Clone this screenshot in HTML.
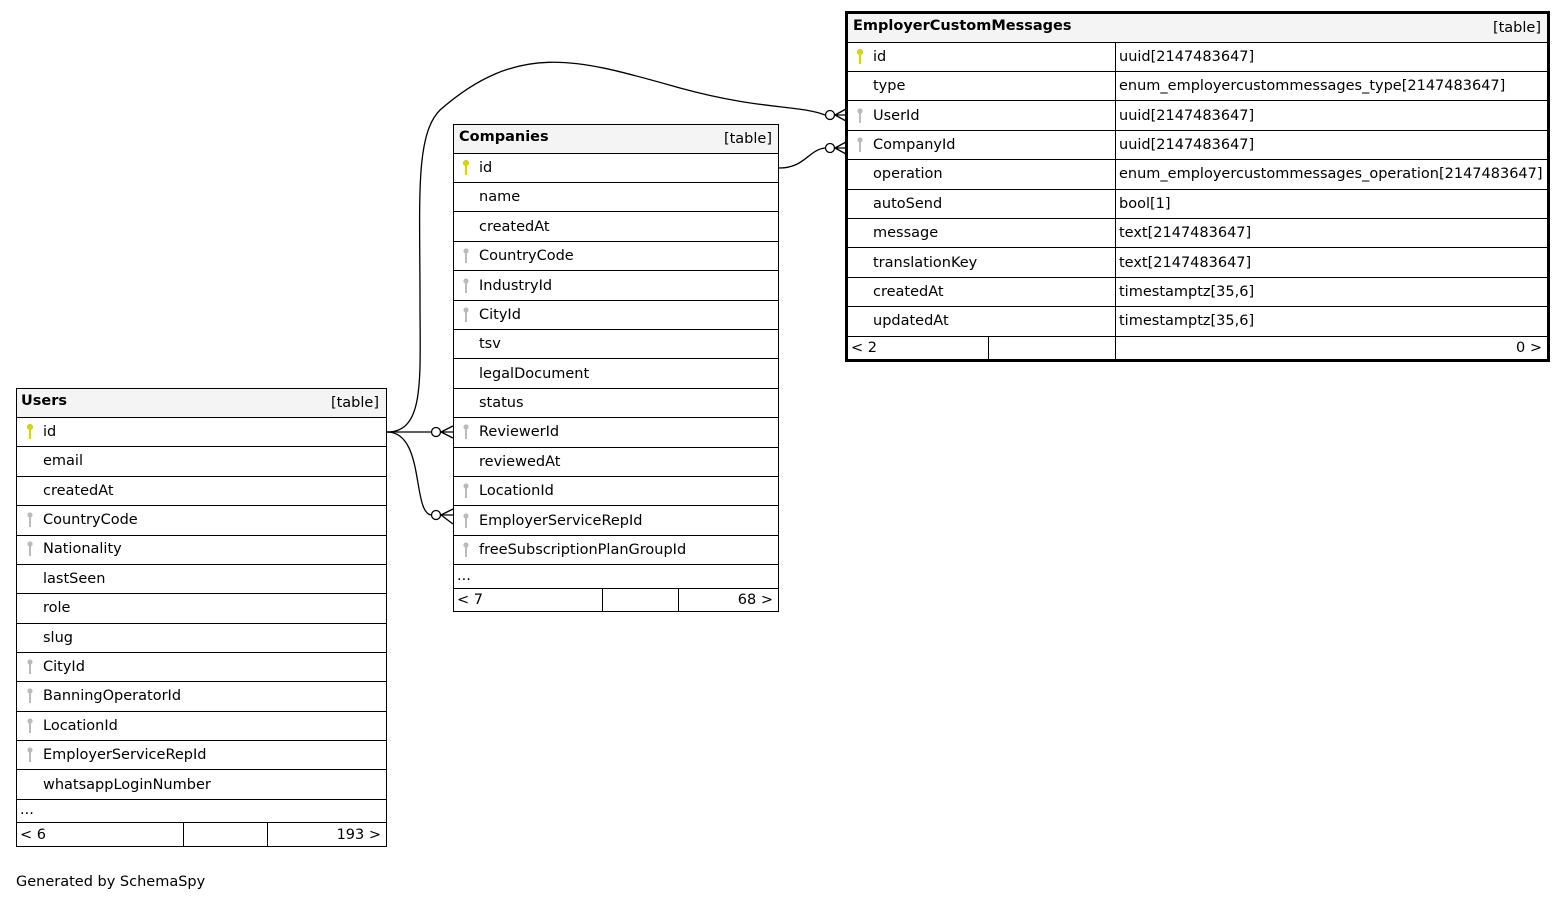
<!DOCTYPE html>
<html><head><meta charset="utf-8"><style>
html,body{margin:0;padding:0;background:#fff;width:1567px;height:901px;overflow:hidden}
svg text{font-family:"DejaVu Sans","Liberation Sans",sans-serif;font-size:14.5px;fill:#000}
.b{font-weight:bold}
</style></head><body>
<svg width="1567" height="901" viewBox="0 0 1567 901" xmlns="http://www.w3.org/2000/svg">
<defs>
<g id="ky"><circle cx="0" cy="0" r="2.8" fill="#d8d800" stroke="#c8c800" stroke-width="0.5"/><rect x="-1.1" y="1" width="2.2" height="11" fill="#d8d800"/></g>
<g id="kg"><circle cx="0" cy="0" r="2.6" fill="#bbb"/><rect x="-1" y="1" width="2" height="11" fill="#bbb"/></g>
</defs>

<g fill="none" stroke="#000" stroke-width="1.3">
<path d="M387,432 C425,432 420,380 420,300 C420,200 415,135 440,110 C520,40 580,60 680,88 C760,110 800,105 825,115"/>
<path d="M779,168 C805,168 808,150 825,148"/>
<path d="M387,432 L431,432"/>
<path d="M387,432 C425,432 412,512 431,515"/>
<circle cx="830" cy="115" r="4.5" fill="#fff"/>
<circle cx="830" cy="148" r="4.5" fill="#fff"/>
<circle cx="436" cy="432" r="4.5" fill="#fff"/>
<circle cx="436" cy="515" r="4.5" fill="#fff"/>
<path d="M835,115 L846,109 M835,115 L846,115 M835,115 L846,121"/>
<path d="M835,148 L846,142 M835,148 L846,148 M835,148 L846,154"/>
<path d="M441,432 L453,426 M441,432 L453,432 M441,432 L453,438"/>
<path d="M441,515 L453,509 M441,515 L453,515 M441,515 L453,524"/>
</g>

<g stroke="#000" stroke-width="1" fill="none">
<rect x="16.5" y="388.5" width="370" height="29" fill="#f4f4f4"/>
<rect x="16.5" y="388.5" width="370" height="458"/>
<path d="M16,417.5H387M16,446.5H387M16,476.5H387M16,505.5H387M16,535.5H387M16,564.5H387M16,593.5H387M16,623.5H387M16,652.5H387M16,681.5H387M16,711.5H387M16,740.5H387M16,769.5H387M16,799.5H387M16,822.5H387M183.5,822V847M267.5,822V847"/>
</g>
<text x="21" y="405" class="b">Users</text><text x="379" y="407" text-anchor="end">[table]</text>
<use href="#ky" x="30" y="427"/><text x="43" y="436">id</text>
<text x="43" y="465">email</text>
<text x="43" y="495">createdAt</text>
<use href="#kg" x="30" y="515"/><text x="43" y="524">CountryCode</text>
<use href="#kg" x="30" y="544"/><text x="43" y="553">Nationality</text>
<text x="43" y="583">lastSeen</text>
<text x="43" y="612">role</text>
<text x="43" y="642">slug</text>
<use href="#kg" x="30" y="662"/><text x="43" y="671">CityId</text>
<use href="#kg" x="30" y="691"/><text x="43" y="700">BanningOperatorId</text>
<use href="#kg" x="30" y="721"/><text x="43" y="730">LocationId</text>
<use href="#kg" x="30" y="750"/><text x="43" y="759">EmployerServiceRepId</text>
<text x="43" y="789">whatsappLoginNumber</text>
<text x="20" y="814">...</text>
<text x="20" y="839">&lt; 6</text><text x="381" y="839" text-anchor="end">193 &gt;</text>

<g stroke="#000" stroke-width="1" fill="none">
<rect x="453.5" y="124.5" width="325" height="29" fill="#f4f4f4"/>
<rect x="453.5" y="124.5" width="325" height="487"/>
<path d="M453,153.5H779M453,182.5H779M453,211.5H779M453,241.5H779M453,270.5H779M453,300.5H779M453,329.5H779M453,358.5H779M453,388.5H779M453,417.5H779M453,447.5H779M453,476.5H779M453,505.5H779M453,535.5H779M453,564.5H779M453,588.5H779M602.5,588V612M678.5,588V612"/>
</g>
<text x="459" y="141" class="b">Companies</text><text x="772" y="143" text-anchor="end">[table]</text>
<use href="#ky" x="466" y="163"/><text x="479" y="172">id</text>
<text x="479" y="201">name</text>
<text x="479" y="231">createdAt</text>
<use href="#kg" x="466" y="251"/><text x="479" y="260">CountryCode</text>
<use href="#kg" x="466" y="281"/><text x="479" y="290">IndustryId</text>
<use href="#kg" x="466" y="310"/><text x="479" y="319">CityId</text>
<text x="479" y="348">tsv</text>
<text x="479" y="378">legalDocument</text>
<text x="479" y="407">status</text>
<use href="#kg" x="466" y="427"/><text x="479" y="436">ReviewerId</text>
<text x="479" y="466">reviewedAt</text>
<use href="#kg" x="466" y="486"/><text x="479" y="495">LocationId</text>
<use href="#kg" x="466" y="516"/><text x="479" y="525">EmployerServiceRepId</text>
<use href="#kg" x="466" y="545"/><text x="479" y="554">freeSubscriptionPlanGroupId</text>
<text x="457" y="580">...</text>
<text x="457" y="604">&lt; 7</text><text x="773" y="604" text-anchor="end">68 &gt;</text>

<g stroke="#000" fill="none">
<rect x="846.5" y="13.5" width="702" height="29" fill="#f4f4f4" stroke-width="1"/>
<path stroke-width="1" d="M846,42.5H1549M846,71.5H1549M846,100.5H1549M846,130.5H1549M846,159.5H1549M846,189.5H1549M846,218.5H1549M846,247.5H1549M846,277.5H1549M846,306.5H1549M846,336.5H1549M1115.5,42V360M988.5,336V360"/>
<rect x="846.5" y="12.5" width="702" height="348" stroke-width="3"/>
</g>
<text x="853" y="30" class="b">EmployerCustomMessages</text><text x="1541" y="32" text-anchor="end">[table]</text>
<use href="#ky" x="860" y="52"/><text x="873" y="61">id</text><text x="1119" y="61">uuid[2147483647]</text>
<text x="873" y="90">type</text><text x="1119" y="90">enum_employercustommessages_type[2147483647]</text>
<use href="#kg" x="860" y="111"/><text x="873" y="120">UserId</text><text x="1119" y="120">uuid[2147483647]</text>
<use href="#kg" x="860" y="140"/><text x="873" y="149">CompanyId</text><text x="1119" y="149">uuid[2147483647]</text>
<text x="873" y="178">operation</text><text x="1119" y="178">enum_employercustommessages_operation[2147483647]</text>
<text x="873" y="208">autoSend</text><text x="1119" y="208">bool[1]</text>
<text x="873" y="237">message</text><text x="1119" y="237">text[2147483647]</text>
<text x="873" y="267">translationKey</text><text x="1119" y="267">text[2147483647]</text>
<text x="873" y="296">createdAt</text><text x="1119" y="296">timestamptz[35,6]</text>
<text x="873" y="325">updatedAt</text><text x="1119" y="325">timestamptz[35,6]</text>
<text x="851" y="352">&lt; 2</text><text x="1542" y="352" text-anchor="end">0 &gt;</text>

<text x="16" y="886">Generated by SchemaSpy</text>
</svg>
</body></html>
